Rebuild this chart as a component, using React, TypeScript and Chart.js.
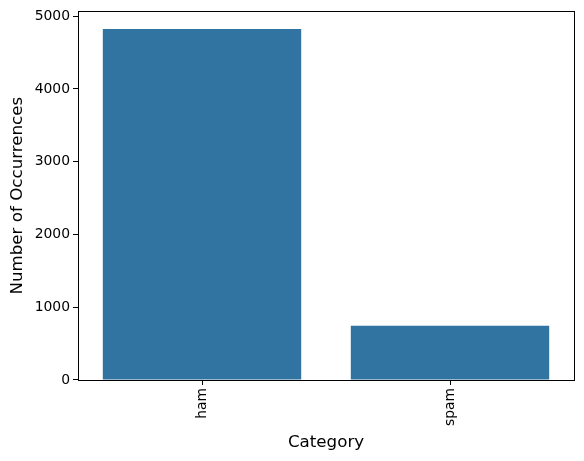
import React, { useEffect, useRef } from "react";
import { Chart, registerables } from "chart.js";

Chart.register(...registerables);

const categories = ["ham", "spam"];
const counts = [4825, 747];
const yTicks = [0, 1000, 2000, 3000, 4000, 5000];

const frame = {
  id: "frame",
  afterDraw(chart: any) {
    const { ctx, chartArea } = chart;
    ctx.save();
    ctx.strokeStyle = "#000";
    ctx.lineWidth = 1;
    ctx.strokeRect(
      Math.round(chartArea.left) + 0.5,
      Math.round(chartArea.top) + 0.5,
      Math.round(chartArea.right - chartArea.left),
      Math.round(chartArea.bottom - chartArea.top)
    );
    ctx.restore();
  },
};

export default function App() {
  const ref = useRef<HTMLCanvasElement>(null);
  useEffect(() => {
    const font = "'DejaVu Sans', sans-serif";
    const chart = new Chart(ref.current!, {
      type: "bar",
      data: {
        labels: categories,
        datasets: [
          {
            data: counts,
            backgroundColor: "#3274a1",
            borderWidth: 0,
            categoryPercentage: 1,
            barPercentage: 0.8,
          },
        ],
      },
      options: {
        animation: false,
        responsive: false,
        layout: { padding: { top: 10, right: 10, left: 0, bottom: 0 } },
        plugins: { legend: { display: false }, tooltip: { enabled: false } },
        scales: {
          x: {
            grid: { offset: false, drawOnChartArea: false, color: "#000", tickColor: "#000", tickLength: 5 },
            border: { display: false },
            ticks: {
              color: "#000",
              font: { family: font, size: 13.9 },
              minRotation: 90,
              maxRotation: 90,
              padding: 3,
            },
            title: {
              display: true,
              text: "Category",
              color: "#000",
              font: { family: font, size: 16.7 },
              padding: { top: 4, bottom: 8 },
            },
            afterFit(scale: any) {
              scale.height = 81;
            },
          },
          y: {
            min: 0,
            max: 5066,
            afterBuildTicks(scale: any) {
              scale.ticks = yTicks.map((v) => ({ value: v }));
            },
            grid: { drawOnChartArea: false, color: "#000", tickColor: "#000", tickLength: 5 },
            border: { display: false },
            ticks: {
              color: "#000",
              font: { family: font, size: 13.9 },
              padding: 3,
              callback: (v: any) => String(v),
            },
            title: {
              display: true,
              text: "Number of Occurrences",
              color: "#000",
              font: { family: font, size: 16.7 },
              padding: { top: 8, bottom: 4 },
            },
            afterFit(scale: any) {
              scale.width = 78;
            },
          },
        },
      },
      plugins: [frame],
    });
    return () => chart.destroy();
  }, []);
  return (
    <div style={{ position: "fixed", left: 0, top: 0, width: 584, height: 461, background: "#fff" }}>
      <canvas ref={ref} width={584} height={461} />
    </div>
  );
}
